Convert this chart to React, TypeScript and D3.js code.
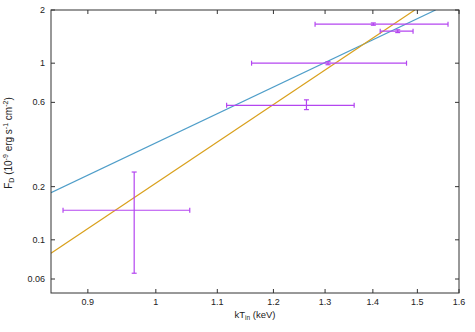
import React from 'react'
import * as d3 from 'd3'

// data points: kT_in (keV) with errors, F_D (1e-9 erg/s/cm2) with errors
const kT = [0.967, 1.263, 1.306, 1.401, 1.455]
const kTLo = [0.866, 1.116, 1.16, 1.28, 1.416]
const kTHi = [1.054, 1.36, 1.475, 1.573, 1.49]
const flux = [0.147, 0.577, 1.0, 1.663, 1.517]
const fluxLo = [0.0647, 0.546, 0.98, 1.64, 1.49]
const fluxHi = [0.242, 0.62, 1.02, 1.69, 1.545]

// model lines (straight on log-log): endpoints
const blueLine = [[0.85, 0.185], [1.543, 2]]
const orangeLine = [[0.85, 0.0839], [1.494, 2]]

const xTicks = [0.9, 1, 1.1, 1.2, 1.3, 1.4, 1.5, 1.6]
const yTicks = [0.06, 0.1, 0.2, 0.6, 1, 2]

const W = 475
const H = 332
const margin = {top: 10, right: 16, bottom: 39, left: 51}

const purple = '#b446f0'
const blue = '#4f9ec9'
const orange = '#d9a01c'
const axisColor = '#333'
const font = 'Liberation Sans, Arial, sans-serif'

export default function App() {
  const x = d3
    .scaleLog()
    .domain([0.85, 1.6])
    .range([margin.left, W - margin.right])
  const y = d3
    .scaleLog()
    .domain([0.05, 2])
    .range([H - margin.bottom, margin.top])

  const line = d3
    .line<number[]>()
    .x(d => x(d[0]))
    .y(d => y(d[1]))

  const x0 = margin.left
  const x1 = W - margin.right
  const y0 = H - margin.bottom
  const y1 = margin.top
  const cap = 2.5

  return (
    <svg
      width={W}
      height={H}
      style={{position: 'absolute', left: 0, top: 0}}
      fontFamily={font}
    >
      <rect width={W} height={H} fill="#fff" />
      <defs>
        <clipPath id="plot">
          <rect x={x0} y={y1} width={x1 - x0} height={y0 - y1} />
        </clipPath>
      </defs>

      {/* ticks */}
      {xTicks.map(t => (
        <g key={'x' + t}>
          <line x1={x(t)} x2={x(t)} y1={y0} y2={y0 - 4} stroke={axisColor} />
          <line x1={x(t)} x2={x(t)} y1={y1} y2={y1 + 4} stroke={axisColor} />
          <text
            x={x(t)}
            y={y0 + 12}
            fontSize={9}
            textAnchor="middle"
            fill="#222"
          >
            {t}
          </text>
        </g>
      ))}
      {yTicks.map(t => (
        <g key={'y' + t}>
          <line x1={x0} x2={x0 + 4} y1={y(t)} y2={y(t)} stroke={axisColor} />
          <line x1={x1} x2={x1 - 4} y1={y(t)} y2={y(t)} stroke={axisColor} />
          <text
            x={x0 - 6}
            y={y(t) + 3}
            fontSize={9}
            textAnchor="end"
            fill="#222"
          >
            {t}
          </text>
        </g>
      ))}

      <g clipPath="url(#plot)">
        <path d={line(blueLine) || ''} fill="none" stroke={blue} strokeWidth={1.2} />
        <path d={line(orangeLine) || ''} fill="none" stroke={orange} strokeWidth={1.2} />

        {kT.map((v, i) => (
          <g key={'p' + i} stroke={purple} strokeWidth={1.2} fill="none">
            <line x1={x(kTLo[i])} x2={x(kTHi[i])} y1={y(flux[i])} y2={y(flux[i])} />
            <line x1={x(kTLo[i])} x2={x(kTLo[i])} y1={y(flux[i]) - cap} y2={y(flux[i]) + cap} />
            <line x1={x(kTHi[i])} x2={x(kTHi[i])} y1={y(flux[i]) - cap} y2={y(flux[i]) + cap} />
            <line x1={x(v)} x2={x(v)} y1={y(fluxLo[i])} y2={y(fluxHi[i])} />
            <line x1={x(v) - cap} x2={x(v) + cap} y1={y(fluxLo[i])} y2={y(fluxLo[i])} />
            <line x1={x(v) - cap} x2={x(v) + cap} y1={y(fluxHi[i])} y2={y(fluxHi[i])} />
          </g>
        ))}
      </g>

      <rect
        x={x0}
        y={y1}
        width={x1 - x0}
        height={y0 - y1}
        fill="none"
        stroke={axisColor}
        strokeWidth={1}
      />

      <text x={(x0 + x1) / 2} y={y0 + 25} fontSize={9.5} textAnchor="middle" fill="#222">
        kT<tspan fontSize={6.5} dy={2}>in</tspan>
        <tspan dy={-2}> (keV)</tspan>
      </text>

      <text
        transform={`translate(12,143) rotate(-90)`}
        fontSize={10}
        textAnchor="middle"
        fill="#222"
      >
        F<tspan fontSize={7} dy={2}>D</tspan>
        <tspan dy={-2}> (10</tspan>
        <tspan fontSize={7} dy={-4}>-9</tspan>
        <tspan dy={4}> erg s</tspan>
        <tspan fontSize={7} dy={-4}>-1</tspan>
        <tspan dy={4}> cm</tspan>
        <tspan fontSize={7} dy={-4}>-2</tspan>
        <tspan dy={4}>)</tspan>
      </text>
    </svg>
  )
}
